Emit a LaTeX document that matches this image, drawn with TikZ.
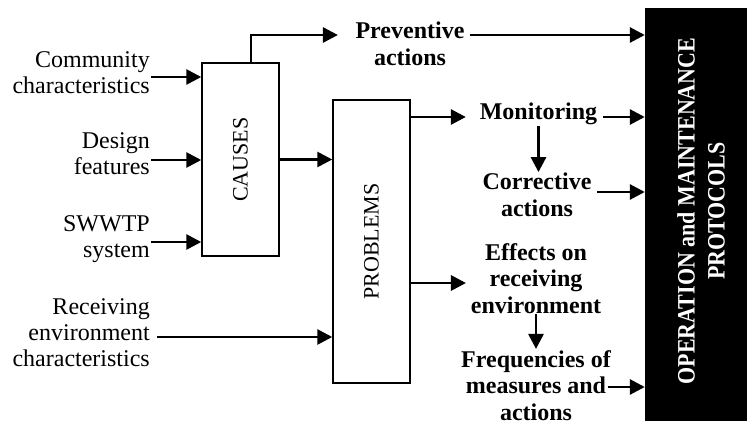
\documentclass[tikz,border=0pt]{standalone}
\usepackage{graphicx}
\usepackage{fontspec}
\setmainfont{Liberation Serif}
\usetikzlibrary{arrows.meta}

\begin{document}
\begin{tikzpicture}[x=1pt,y=-1pt]

\tikzset{block/.style = {shape=rectangle,draw,line width=1.5pt,inner sep=0pt}}
\tikzset{txt/.style = {inner sep=1pt,anchor=east,align=right,font=\fontsize{24}{26}\selectfont}}
\tikzset{btxt/.style = {inner sep=1pt,align=center,font=\bfseries\fontsize{24}{26.5}\selectfont}}
\tikzset{edge/.style = {-{Triangle[length=15pt,width=15pt]},line width=2.8pt}}

\useasboundingbox (0,0) rectangle (747,425);

%blocks
\node[block,minimum width=77pt,minimum height=193pt] (causes) at (240.5,159.5) {\rotatebox{90}{\fontsize{22}{24}\selectfont CAUSES}};
\node[block,minimum width=77pt,minimum height=283pt] (problems) at (371.5,241.5) {\rotatebox{90}{\fontsize{22}{24}\selectfont PROBLEMS}};
\node[fill=black,minimum width=102pt,minimum height=413pt,inner sep=0pt] (opm) at (696,214.5) {};
\node[text=white,rotate=90,align=center,inner sep=0pt,font=\bfseries\fontsize{25}{30}\selectfont] (opmtext) at (701,211) {\scalebox{0.88}[1]{OPERATION and MAINTENANCE}\\\scalebox{0.88}[1]{PROTOCOLS}};

%inputs
\node[txt] (comm) at (151,72.8) {Community\\characteristics};
\node[txt] (design) at (151,153.8) {Design\\features};
\node[txt] (swwtp) at (151,239.6) {SWWTP\\system};
\node[txt] (recv) at (151,332.8) {Receiving\\environment\\characteristics};

%outputs
\node[btxt] (prev) at (410,44) {Preventive\\actions};
\node[btxt] (mon) at (538.5,114.3) {Monitoring};
\node[btxt] (corr) at (537,195) {Corrective\\actions};
\node[btxt] (eff) at (536,278.2) {Effects on\\receiving\\environment};
\node[btxt] (freq) at (536,385.2) {Frequencies of\\measures and\\actions};

%arrows in
\draw[edge] ([yshift=-4.2pt]comm.east) coordinate (c1) -- (c1 -| causes.west);
\draw[edge] ([yshift=-6.2pt]design.east) coordinate (c2) -- (c2 -| causes.west);
\draw[edge] ([yshift=-2.4pt]swwtp.east) coordinate (c3) -- (c3 -| causes.west);
\draw[edge] ([xshift=6pt,yshift=-4.2pt]recv.east) coordinate (c4) -- (c4 -| problems.west);
\draw[edge] (causes.east) -- (causes.east -| problems.west);

%arrows out
\draw[edge,shorten >=16.5pt] ([xshift=10.5pt]causes.north) |- ([yshift=9pt]prev.west);
\draw[edge] ([xshift=4pt,yshift=9pt]prev.east) coordinate (c5) -- (c5 -| opm.west);
\path ([yshift=-2.7pt]mon.west) coordinate (m1);
\draw[edge,shorten >=12.8pt] (m1 -| problems.east) -- (m1);
\draw[edge] ([xshift=5pt,yshift=-2.7pt]mon.east) coordinate (c6) -- (c6 -| opm.west);
\draw[edge] (mon.south) -- (mon.south |- corr.north);
\draw[edge] ([xshift=4.4pt,yshift=3pt]corr.east) coordinate (c7) -- (c7 -| opm.west);
\path ([yshift=-4.8pt]eff.west) coordinate (e1);
\draw[edge,shorten >=3.7pt] (e1 -| problems.east) -- (e1);
\draw[edge] (eff.south) -- (eff.south |- freq.north);
\draw[edge] ([xshift=-4pt,yshift=-1.8pt]freq.east) coordinate (c8) -- (c8 -| opm.west);

\end{tikzpicture}
\end{document}
